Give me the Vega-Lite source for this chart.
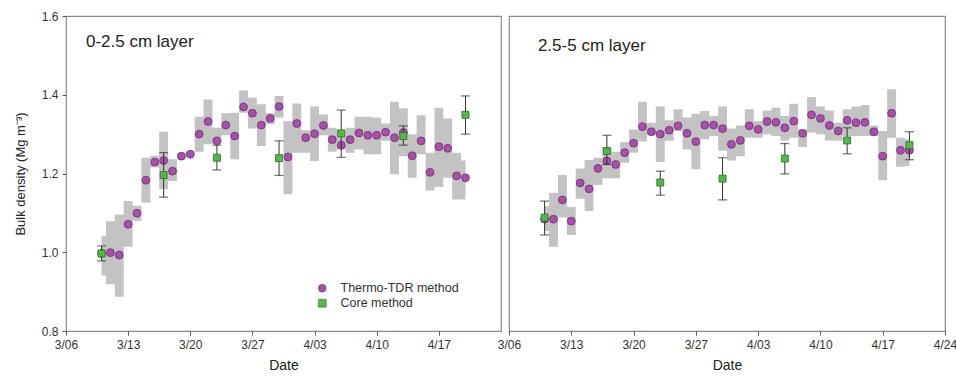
{
  "$schema": "https://vega.github.io/schema/vega-lite/v6.json",
  "autosize": {"type": "pad"},
  "padding": {"left": 13, "top": 9, "right": 2, "bottom": 5},
  "background": "white",
  "spacing": 8,
  "bounds": "flush",
  "datasets": {
    "tdr": [
      {"layer": "0-2.5", "date": "2015/03/10", "tdr": 0.997, "lo": 0.941, "hi": 1.041},
      {"layer": "0-2.5", "date": "2015/03/11", "tdr": 0.999, "lo": 0.919, "hi": 1.079},
      {"layer": "0-2.5", "date": "2015/03/12", "tdr": 0.993, "lo": 0.887, "hi": 1.096},
      {"layer": "0-2.5", "date": "2015/03/13", "tdr": 1.071, "lo": 1.014, "hi": 1.130},
      {"layer": "0-2.5", "date": "2015/03/14", "tdr": 1.099, "lo": 1.080, "hi": 1.118},
      {"layer": "0-2.5", "date": "2015/03/15", "tdr": 1.183, "lo": 1.126, "hi": 1.240},
      {"layer": "0-2.5", "date": "2015/03/16", "tdr": 1.229, "lo": 1.215, "hi": 1.245},
      {"layer": "0-2.5", "date": "2015/03/17", "tdr": 1.233, "lo": 1.160, "hi": 1.306},
      {"layer": "0-2.5", "date": "2015/03/18", "tdr": 1.206, "lo": 1.181, "hi": 1.236},
      {"layer": "0-2.5", "date": "2015/03/19", "tdr": 1.244, "lo": 1.240, "hi": 1.250},
      {"layer": "0-2.5", "date": "2015/03/20", "tdr": 1.249, "lo": 1.245, "hi": 1.255},
      {"layer": "0-2.5", "date": "2015/03/21", "tdr": 1.300, "lo": 1.255, "hi": 1.344},
      {"layer": "0-2.5", "date": "2015/03/22", "tdr": 1.332, "lo": 1.274, "hi": 1.388},
      {"layer": "0-2.5", "date": "2015/03/23", "tdr": 1.283, "lo": 1.276, "hi": 1.316},
      {"layer": "0-2.5", "date": "2015/03/24", "tdr": 1.323, "lo": 1.297, "hi": 1.353},
      {"layer": "0-2.5", "date": "2015/03/25", "tdr": 1.295, "lo": 1.236, "hi": 1.354},
      {"layer": "0-2.5", "date": "2015/03/26", "tdr": 1.369, "lo": 1.354, "hi": 1.411},
      {"layer": "0-2.5", "date": "2015/03/27", "tdr": 1.353, "lo": 1.314, "hi": 1.393},
      {"layer": "0-2.5", "date": "2015/03/28", "tdr": 1.323, "lo": 1.270, "hi": 1.376},
      {"layer": "0-2.5", "date": "2015/03/29", "tdr": 1.340, "lo": 1.325, "hi": 1.353},
      {"layer": "0-2.5", "date": "2015/03/30", "tdr": 1.370, "lo": 1.342, "hi": 1.397},
      {"layer": "0-2.5", "date": "2015/03/31", "tdr": 1.242, "lo": 1.147, "hi": 1.333},
      {"layer": "0-2.5", "date": "2015/04/01", "tdr": 1.327, "lo": 1.253, "hi": 1.378},
      {"layer": "0-2.5", "date": "2015/04/02", "tdr": 1.291, "lo": 1.253, "hi": 1.310},
      {"layer": "0-2.5", "date": "2015/04/03", "tdr": 1.301, "lo": 1.232, "hi": 1.370},
      {"layer": "0-2.5", "date": "2015/04/04", "tdr": 1.322, "lo": 1.297, "hi": 1.350},
      {"layer": "0-2.5", "date": "2015/04/05", "tdr": 1.286, "lo": 1.255, "hi": 1.316},
      {"layer": "0-2.5", "date": "2015/04/06", "tdr": 1.272, "lo": 1.261, "hi": 1.310},
      {"layer": "0-2.5", "date": "2015/04/07", "tdr": 1.286, "lo": 1.253, "hi": 1.316},
      {"layer": "0-2.5", "date": "2015/04/08", "tdr": 1.303, "lo": 1.261, "hi": 1.344},
      {"layer": "0-2.5", "date": "2015/04/09", "tdr": 1.297, "lo": 1.249, "hi": 1.344},
      {"layer": "0-2.5", "date": "2015/04/10", "tdr": 1.297, "lo": 1.249, "hi": 1.342},
      {"layer": "0-2.5", "date": "2015/04/11", "tdr": 1.305, "lo": 1.283, "hi": 1.327},
      {"layer": "0-2.5", "date": "2015/04/12", "tdr": 1.291, "lo": 1.198, "hi": 1.382},
      {"layer": "0-2.5", "date": "2015/04/13", "tdr": 1.304, "lo": 1.244, "hi": 1.366},
      {"layer": "0-2.5", "date": "2015/04/14", "tdr": 1.245, "lo": 1.189, "hi": 1.300},
      {"layer": "0-2.5", "date": "2015/04/15", "tdr": 1.283, "lo": 1.249, "hi": 1.348},
      {"layer": "0-2.5", "date": "2015/04/16", "tdr": 1.203, "lo": 1.157, "hi": 1.253},
      {"layer": "0-2.5", "date": "2015/04/17", "tdr": 1.268, "lo": 1.166, "hi": 1.367},
      {"layer": "0-2.5", "date": "2015/04/18", "tdr": 1.264, "lo": 1.189, "hi": 1.340},
      {"layer": "0-2.5", "date": "2015/04/19", "tdr": 1.194, "lo": 1.134, "hi": 1.253},
      {"layer": "0-2.5", "date": "2015/04/20", "tdr": 1.189, "lo": 1.134, "hi": 1.233},
      {"layer": "2.5-5", "date": "2015/03/10", "tdr": 1.084, "lo": 1.054, "hi": 1.117},
      {"layer": "2.5-5", "date": "2015/03/11", "tdr": 1.084, "lo": 1.014, "hi": 1.151},
      {"layer": "2.5-5", "date": "2015/03/12", "tdr": 1.133, "lo": 1.088, "hi": 1.196},
      {"layer": "2.5-5", "date": "2015/03/13", "tdr": 1.079, "lo": 1.044, "hi": 1.115},
      {"layer": "2.5-5", "date": "2015/03/14", "tdr": 1.176, "lo": 1.136, "hi": 1.213},
      {"layer": "2.5-5", "date": "2015/03/15", "tdr": 1.161, "lo": 1.105, "hi": 1.234},
      {"layer": "2.5-5", "date": "2015/03/16", "tdr": 1.213, "lo": 1.171, "hi": 1.240},
      {"layer": "2.5-5", "date": "2015/03/17", "tdr": 1.232, "lo": 1.188, "hi": 1.266},
      {"layer": "2.5-5", "date": "2015/03/18", "tdr": 1.223, "lo": 1.188, "hi": 1.255},
      {"layer": "2.5-5", "date": "2015/03/19", "tdr": 1.253, "lo": 1.227, "hi": 1.280},
      {"layer": "2.5-5", "date": "2015/03/20", "tdr": 1.277, "lo": 1.253, "hi": 1.312},
      {"layer": "2.5-5", "date": "2015/03/21", "tdr": 1.319, "lo": 1.281, "hi": 1.382},
      {"layer": "2.5-5", "date": "2015/03/22", "tdr": 1.306, "lo": 1.297, "hi": 1.329},
      {"layer": "2.5-5", "date": "2015/03/23", "tdr": 1.300, "lo": 1.229, "hi": 1.370},
      {"layer": "2.5-5", "date": "2015/03/24", "tdr": 1.310, "lo": 1.283, "hi": 1.335},
      {"layer": "2.5-5", "date": "2015/03/25", "tdr": 1.321, "lo": 1.308, "hi": 1.363},
      {"layer": "2.5-5", "date": "2015/03/26", "tdr": 1.302, "lo": 1.261, "hi": 1.342},
      {"layer": "2.5-5", "date": "2015/03/27", "tdr": 1.281, "lo": 1.211, "hi": 1.352},
      {"layer": "2.5-5", "date": "2015/03/28", "tdr": 1.323, "lo": 1.287, "hi": 1.359},
      {"layer": "2.5-5", "date": "2015/03/29", "tdr": 1.323, "lo": 1.295, "hi": 1.346},
      {"layer": "2.5-5", "date": "2015/03/30", "tdr": 1.314, "lo": 1.258, "hi": 1.370},
      {"layer": "2.5-5", "date": "2015/03/31", "tdr": 1.274, "lo": 1.233, "hi": 1.314},
      {"layer": "2.5-5", "date": "2015/04/01", "tdr": 1.284, "lo": 1.244, "hi": 1.322},
      {"layer": "2.5-5", "date": "2015/04/02", "tdr": 1.321, "lo": 1.291, "hi": 1.363},
      {"layer": "2.5-5", "date": "2015/04/03", "tdr": 1.312, "lo": 1.291, "hi": 1.333},
      {"layer": "2.5-5", "date": "2015/04/04", "tdr": 1.332, "lo": 1.300, "hi": 1.360},
      {"layer": "2.5-5", "date": "2015/04/05", "tdr": 1.330, "lo": 1.295, "hi": 1.367},
      {"layer": "2.5-5", "date": "2015/04/06", "tdr": 1.316, "lo": 1.284, "hi": 1.346},
      {"layer": "2.5-5", "date": "2015/04/07", "tdr": 1.333, "lo": 1.291, "hi": 1.377},
      {"layer": "2.5-5", "date": "2015/04/08", "tdr": 1.302, "lo": 1.267, "hi": 1.312},
      {"layer": "2.5-5", "date": "2015/04/09", "tdr": 1.349, "lo": 1.304, "hi": 1.394},
      {"layer": "2.5-5", "date": "2015/04/10", "tdr": 1.340, "lo": 1.300, "hi": 1.370},
      {"layer": "2.5-5", "date": "2015/04/11", "tdr": 1.322, "lo": 1.284, "hi": 1.360},
      {"layer": "2.5-5", "date": "2015/04/12", "tdr": 1.308, "lo": 1.283, "hi": 1.329},
      {"layer": "2.5-5", "date": "2015/04/13", "tdr": 1.335, "lo": 1.295, "hi": 1.363},
      {"layer": "2.5-5", "date": "2015/04/14", "tdr": 1.329, "lo": 1.295, "hi": 1.370},
      {"layer": "2.5-5", "date": "2015/04/15", "tdr": 1.330, "lo": 1.295, "hi": 1.374},
      {"layer": "2.5-5", "date": "2015/04/16", "tdr": 1.306, "lo": 1.295, "hi": 1.322},
      {"layer": "2.5-5", "date": "2015/04/17", "tdr": 1.244, "lo": 1.183, "hi": 1.308},
      {"layer": "2.5-5", "date": "2015/04/18", "tdr": 1.353, "lo": 1.291, "hi": 1.414},
      {"layer": "2.5-5", "date": "2015/04/19", "tdr": 1.259, "lo": 1.217, "hi": 1.291},
      {"layer": "2.5-5", "date": "2015/04/20", "tdr": 1.259, "lo": 1.219, "hi": 1.287}
    ],
    "core": [
      {"layer": "0-2.5", "date": "2015/03/10", "core": 0.997, "clo": 0.978, "chi": 1.016},
      {"layer": "0-2.5", "date": "2015/03/17", "core": 1.196, "clo": 1.140, "chi": 1.253},
      {"layer": "0-2.5", "date": "2015/03/23", "core": 1.240, "clo": 1.209, "chi": 1.272},
      {"layer": "0-2.5", "date": "2015/03/30", "core": 1.239, "clo": 1.195, "chi": 1.283},
      {"layer": "0-2.5", "date": "2015/04/06", "core": 1.302, "clo": 1.241, "chi": 1.361},
      {"layer": "0-2.5", "date": "2015/04/13", "core": 1.295, "clo": 1.272, "chi": 1.321},
      {"layer": "0-2.5", "date": "2015/04/20", "core": 1.349, "clo": 1.300, "chi": 1.397},
      {"layer": "2.5-5", "date": "2015/03/10", "core": 1.088, "clo": 1.044, "chi": 1.130},
      {"layer": "2.5-5", "date": "2015/03/17", "core": 1.257, "clo": 1.223, "chi": 1.297},
      {"layer": "2.5-5", "date": "2015/03/23", "core": 1.177, "clo": 1.145, "chi": 1.206},
      {"layer": "2.5-5", "date": "2015/03/30", "core": 1.187, "clo": 1.133, "chi": 1.240},
      {"layer": "2.5-5", "date": "2015/04/06", "core": 1.238, "clo": 1.199, "chi": 1.276},
      {"layer": "2.5-5", "date": "2015/04/13", "core": 1.284, "clo": 1.250, "chi": 1.316},
      {"layer": "2.5-5", "date": "2015/04/20", "core": 1.272, "clo": 1.235, "chi": 1.306}
    ],
    "labels": [
      {"layer": "0-2.5", "date": "2015/03/08 06:00", "y": 1.522, "label": "0-2.5 cm layer"},
      {"layer": "2.5-5", "date": "2015/03/09 06:00", "y": 1.511, "label": "2.5-5 cm layer"}
    ]
  },
  "hconcat": [
    {
      "width": 435,
      "height": 315,
      "layer": [
        {
          "data": {"name": "tdr"},
          "transform": [{"filter": "datum.layer === '0-2.5'"}],
          "mark": {"type": "area", "interpolate": "step", "color": "#c3c3c3", "opacity": 1},
          "encoding": {
            "x": {"field": "date", "type": "temporal",
              "scale": {"domain": [{"year": 2015, "month": 3, "date": 6}, {"year": 2015, "month": 4, "date": 24}]},
              "axis": {"title": "Date", "format": "%-m/%d",
                "values": [{"year": 2015, "month": 3, "date": 6}, {"year": 2015, "month": 3, "date": 13}, {"year": 2015, "month": 3, "date": 20}, {"year": 2015, "month": 3, "date": 27}, {"year": 2015, "month": 4, "date": 3}, {"year": 2015, "month": 4, "date": 10}, {"year": 2015, "month": 4, "date": 17}]}},
            "y": {"field": "hi", "type": "quantitative",
              "scale": {"domain": [0.8, 1.6]},
              "axis": {"title": "Bulk density (Mg m\u207B\u00B3)", "values": [0.8, 1.0, 1.2, 1.4, 1.6], "format": ".1f", "titlePadding": 14}},
            "y2": {"field": "lo"}
          }
        },
        {
          "data": {"name": "tdr"},
          "transform": [{"filter": "datum.layer === '0-2.5'"}],
          "mark": {"type": "point", "filled": true, "size": 62, "stroke": "#6e2d70", "strokeWidth": 0.8, "opacity": 1},
          "encoding": {
            "x": {"field": "date", "type": "temporal"},
            "y": {"field": "tdr", "type": "quantitative"},
            "color": {"datum": "Thermo-TDR method",
              "scale": {"domain": ["Thermo-TDR method", "Core method"], "range": ["#a650a8", "#52b847"]},
              "legend": {"title": null, "orient": "none", "legendX": 250, "legendY": 266, "labelFontSize": 12.5, "labelColor": "#333", "symbolStrokeColor": "#555", "symbolStrokeWidth": 0.6, "symbolSize": 62, "rowPadding": 2, "labelOffset": 12}},
            "shape": {"datum": "Thermo-TDR method",
              "scale": {"domain": ["Thermo-TDR method", "Core method"], "range": ["circle", "square"]},
              "legend": {"title": null, "orient": "none", "legendX": 250, "legendY": 266, "labelFontSize": 12.5, "labelColor": "#333", "symbolStrokeColor": "#555", "symbolStrokeWidth": 0.6, "symbolSize": 62, "rowPadding": 2, "labelOffset": 12}}
          }
        },
        {
          "data": {"name": "core"},
          "transform": [{"filter": "datum.layer === '0-2.5'"}],
          "mark": {"type": "rule", "color": "#333", "strokeWidth": 1},
          "encoding": {
            "x": {"field": "date", "type": "temporal"},
            "y": {"field": "clo", "type": "quantitative"},
            "y2": {"field": "chi"}
          }
        },
        {
          "data": {"name": "core"},
          "transform": [{"filter": "datum.layer === '0-2.5'"}],
          "mark": {"type": "tick", "orient": "horizontal", "color": "#333", "size": 9, "thickness": 1.2},
          "encoding": {
            "x": {"field": "date", "type": "temporal"},
            "y": {"field": "clo", "type": "quantitative"}
          }
        },
        {
          "data": {"name": "core"},
          "transform": [{"filter": "datum.layer === '0-2.5'"}],
          "mark": {"type": "tick", "orient": "horizontal", "color": "#333", "size": 9, "thickness": 1.2},
          "encoding": {
            "x": {"field": "date", "type": "temporal"},
            "y": {"field": "chi", "type": "quantitative"}
          }
        },
        {
          "data": {"name": "core"},
          "transform": [{"filter": "datum.layer === '0-2.5'"}],
          "mark": {"type": "point", "filled": true, "size": 49, "stroke": "#2f6e2a", "strokeWidth": 0.8, "opacity": 1},
          "encoding": {
            "x": {"field": "date", "type": "temporal"},
            "y": {"field": "core", "type": "quantitative"},
            "color": {"datum": "Core method"},
            "shape": {"datum": "Core method"}
          }
        },
        {
          "data": {"name": "labels"},
          "transform": [{"filter": "datum.layer === '0-2.5'"}],
          "mark": {"type": "text", "align": "left", "baseline": "alphabetic", "fontSize": 17, "color": "#222"},
          "encoding": {
            "x": {"field": "date", "type": "temporal"},
            "y": {"field": "y", "type": "quantitative"},
            "text": {"field": "label"}
          }
        }
      ]
    },
    {
      "width": 436,
      "height": 315,
      "layer": [
        {
          "data": {"name": "tdr"},
          "transform": [{"filter": "datum.layer === '2.5-5'"}],
          "mark": {"type": "area", "interpolate": "step", "color": "#c3c3c3", "opacity": 1},
          "encoding": {
            "x": {"field": "date", "type": "temporal",
              "scale": {"domain": [{"year": 2015, "month": 3, "date": 6}, {"year": 2015, "month": 4, "date": 24}]},
              "axis": {"title": "Date", "format": "%-m/%d",
                "values": [{"year": 2015, "month": 3, "date": 6}, {"year": 2015, "month": 3, "date": 13}, {"year": 2015, "month": 3, "date": 20}, {"year": 2015, "month": 3, "date": 27}, {"year": 2015, "month": 4, "date": 3}, {"year": 2015, "month": 4, "date": 10}, {"year": 2015, "month": 4, "date": 17}, {"year": 2015, "month": 4, "date": 24}]}},
            "y": {"field": "hi", "type": "quantitative",
              "scale": {"domain": [0.8, 1.6]},
              "axis": null},
            "y2": {"field": "lo"}
          }
        },
        {
          "data": {"name": "tdr"},
          "transform": [{"filter": "datum.layer === '2.5-5'"}],
          "mark": {"type": "point", "filled": true, "size": 62, "stroke": "#6e2d70", "strokeWidth": 0.8, "opacity": 1},
          "encoding": {
            "x": {"field": "date", "type": "temporal"},
            "y": {"field": "tdr", "type": "quantitative"},
            "color": {"datum": "Thermo-TDR method"},
            "shape": {"datum": "Thermo-TDR method"}
          }
        },
        {
          "data": {"name": "core"},
          "transform": [{"filter": "datum.layer === '2.5-5'"}],
          "mark": {"type": "rule", "color": "#333", "strokeWidth": 1},
          "encoding": {
            "x": {"field": "date", "type": "temporal"},
            "y": {"field": "clo", "type": "quantitative"},
            "y2": {"field": "chi"}
          }
        },
        {
          "data": {"name": "core"},
          "transform": [{"filter": "datum.layer === '2.5-5'"}],
          "mark": {"type": "tick", "orient": "horizontal", "color": "#333", "size": 9, "thickness": 1.2},
          "encoding": {
            "x": {"field": "date", "type": "temporal"},
            "y": {"field": "clo", "type": "quantitative"}
          }
        },
        {
          "data": {"name": "core"},
          "transform": [{"filter": "datum.layer === '2.5-5'"}],
          "mark": {"type": "tick", "orient": "horizontal", "color": "#333", "size": 9, "thickness": 1.2},
          "encoding": {
            "x": {"field": "date", "type": "temporal"},
            "y": {"field": "chi", "type": "quantitative"}
          }
        },
        {
          "data": {"name": "core"},
          "transform": [{"filter": "datum.layer === '2.5-5'"}],
          "mark": {"type": "point", "filled": true, "size": 49, "stroke": "#2f6e2a", "strokeWidth": 0.8, "opacity": 1},
          "encoding": {
            "x": {"field": "date", "type": "temporal"},
            "y": {"field": "core", "type": "quantitative"},
            "color": {"datum": "Core method"},
            "shape": {"datum": "Core method"}
          }
        },
        {
          "data": {"name": "labels"},
          "transform": [{"filter": "datum.layer === '2.5-5'"}],
          "mark": {"type": "text", "align": "left", "baseline": "alphabetic", "fontSize": 17, "color": "#222"},
          "encoding": {
            "x": {"field": "date", "type": "temporal"},
            "y": {"field": "y", "type": "quantitative"},
            "text": {"field": "label"}
          }
        }
      ]
    }
  ],
  "config": {
    "font": "Liberation Sans",
    "view": {"stroke": "#8a8a8a", "strokeWidth": 1.2},
    "axis": {"grid": false, "domain": false, "tickColor": "#555", "tickSize": 4, "labelColor": "#333", "titleColor": "#222", "labelFontSize": 12, "titleFontSize": 14, "titleFontWeight": "normal", "labelPadding": 4},
    "axisX": {"titlePadding": 8, "labelFlush": false},
    "axisY": {"titleFontSize": 13}
  }
}
